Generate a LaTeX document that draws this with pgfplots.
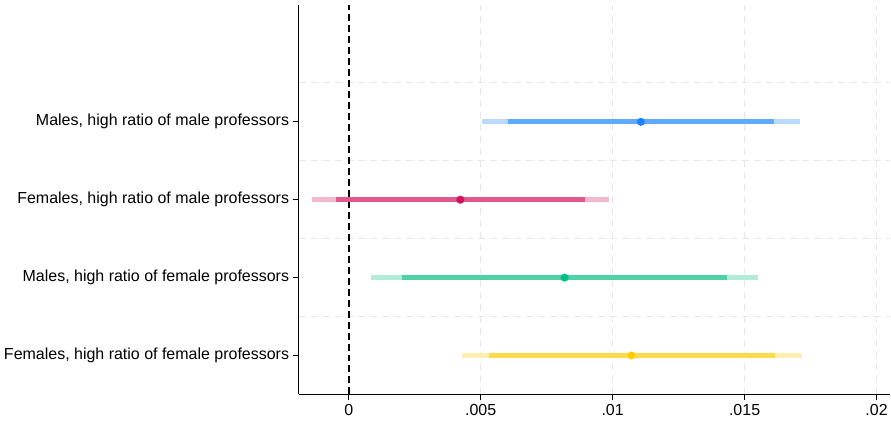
\documentclass[border=0pt]{standalone}
\usepackage{fontspec}
\setmainfont{Liberation Sans}
\usepackage{pgfplots}
\pgfplotsset{compat=1.18}
\definecolor{cblue}{RGB}{26,133,255}
\definecolor{cpink}{RGB}{212,17,89}
\definecolor{cgreen}{RGB}{0,190,128}
\definecolor{cyellow}{RGB}{255,204,0}
\definecolor{gridc}{RGB}{232,232,232}
\begin{document}
\begin{tikzpicture}
\begin{axis}[
  scale only axis,
  width=592pt, height=390pt,
  xmin=-0.0019, xmax=0.0205,
  ymin=0.5, ymax=5.5,
  axis x line*=bottom, axis y line*=left,
  axis line style={black, line width=0.9pt},
  tick align=outside,
  major tick length=6pt,
  tick style={black, line width=0.7pt},
  scaled x ticks=false,
  xtick={0,0.005,0.01,0.015,0.02},
  xticklabels={0,.005,.01,.015,.02},
  ytick={1,2,3,4},
  yticklabels={{Females, high ratio of female professors}, {Males, high ratio of female professors}, {Females, high ratio of male professors}, {Males, high ratio of male professors}},
  minor ytick={1.5,2.5,3.5,4.5},
  minor tick length=0pt,
  yminorgrids=true,
  minor grid style={gridc, dash pattern=on 7pt off 5pt, line width=0.9pt},
  extra x ticks={0.005,0.01,0.015,0.02},
  extra x tick labels={},
  extra x tick style={grid=major, major tick length=0pt, grid style={gridc, dash pattern=on 7pt off 5pt, line width=0.9pt}},
  tick label style={font=\fontsize{16}{19}\selectfont},
  yticklabel style={xshift=0pt},
  xticklabel style={yshift=0pt},
  clip=false,
]
\addplot[black, line width=1.7pt, dash pattern=on 7pt off 4pt] coordinates {(0,0.5) (0,5.5)};
% Males, high ratio of male professors (y=4)
\addplot[cblue!30!white, line width=5pt] coordinates {(0.00505,4) (0.01709,4)};
\addplot[cblue!70!white, line width=5pt] coordinates {(0.00602,4) (0.01611,4)};
\addplot[only marks, mark=*, mark size=3.8pt, cblue] coordinates {(0.01107,4)};
% Females, high ratio of male professors (y=3)
\addplot[cpink!30!white, line width=5pt] coordinates {(-0.00141,3) (0.00987,3)};
\addplot[cpink!70!white, line width=5pt] coordinates {(-0.00050,3) (0.00896,3)};
\addplot[only marks, mark=*, mark size=3.8pt, cpink] coordinates {(0.00423,3)};
% Males, high ratio of female professors (y=2)
\addplot[cgreen!30!white, line width=5pt] coordinates {(0.00085,2) (0.01551,2)};
\addplot[cgreen!70!white, line width=5pt] coordinates {(0.00203,2) (0.01433,2)};
\addplot[only marks, mark=*, mark size=3.8pt, cgreen] coordinates {(0.00818,2)};
% Females, high ratio of female professors (y=1)
\addplot[cyellow!30!white, line width=5pt] coordinates {(0.00428,1) (0.01716,1)};
\addplot[cyellow!70!white, line width=5pt] coordinates {(0.00533,1) (0.01614,1)};
\addplot[only marks, mark=*, mark size=3.8pt, cyellow] coordinates {(0.01071,1)};
\end{axis}
\path ([yshift=5pt]current axis.north);
\path ([xshift=-299pt]current axis.west);
\path ([yshift=-27pt]current axis.south);
\end{tikzpicture}
\end{document}
